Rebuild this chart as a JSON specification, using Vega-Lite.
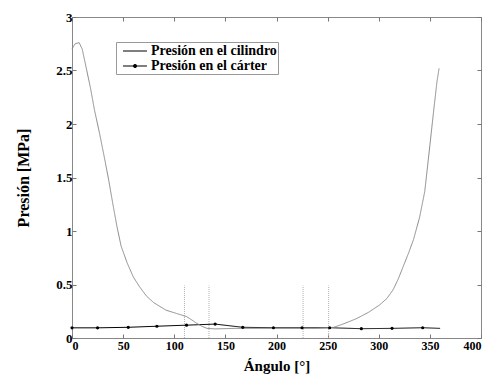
{
  "$schema": "https://vega.github.io/schema/vega-lite/v6.json",
  "width": 409,
  "height": 321,
  "autosize": {"type": "none"},
  "padding": {"left": 72, "top": 17, "right": 11, "bottom": 45},
  "background": "white",
  "config": {
    "view": {"stroke": "#888", "strokeWidth": 1},
    "font": "Liberation Serif"
  },
  "datasets": {
    "lines": [
      {"angle": 0, "p": 2.70, "serie": "Presión en el cilindro"},
      {"angle": 3, "p": 2.75, "serie": "Presión en el cilindro"},
      {"angle": 7, "p": 2.76, "serie": "Presión en el cilindro"},
      {"angle": 10, "p": 2.70, "serie": "Presión en el cilindro"},
      {"angle": 14, "p": 2.52, "serie": "Presión en el cilindro"},
      {"angle": 18, "p": 2.34, "serie": "Presión en el cilindro"},
      {"angle": 22, "p": 2.13, "serie": "Presión en el cilindro"},
      {"angle": 27, "p": 1.91, "serie": "Presión en el cilindro"},
      {"angle": 32, "p": 1.67, "serie": "Presión en el cilindro"},
      {"angle": 36, "p": 1.47, "serie": "Presión en el cilindro"},
      {"angle": 40, "p": 1.25, "serie": "Presión en el cilindro"},
      {"angle": 44, "p": 1.04, "serie": "Presión en el cilindro"},
      {"angle": 48, "p": 0.86, "serie": "Presión en el cilindro"},
      {"angle": 54, "p": 0.70, "serie": "Presión en el cilindro"},
      {"angle": 60, "p": 0.57, "serie": "Presión en el cilindro"},
      {"angle": 66, "p": 0.48, "serie": "Presión en el cilindro"},
      {"angle": 73, "p": 0.39, "serie": "Presión en el cilindro"},
      {"angle": 80, "p": 0.33, "serie": "Presión en el cilindro"},
      {"angle": 92, "p": 0.26, "serie": "Presión en el cilindro"},
      {"angle": 102, "p": 0.23, "serie": "Presión en el cilindro"},
      {"angle": 112, "p": 0.20, "serie": "Presión en el cilindro"},
      {"angle": 117, "p": 0.17, "serie": "Presión en el cilindro"},
      {"angle": 122, "p": 0.137, "serie": "Presión en el cilindro"},
      {"angle": 127, "p": 0.11, "serie": "Presión en el cilindro"},
      {"angle": 132, "p": 0.09, "serie": "Presión en el cilindro"},
      {"angle": 140, "p": 0.085, "serie": "Presión en el cilindro"},
      {"angle": 160, "p": 0.09, "serie": "Presión en el cilindro"},
      {"angle": 200, "p": 0.09, "serie": "Presión en el cilindro"},
      {"angle": 240, "p": 0.09, "serie": "Presión en el cilindro"},
      {"angle": 250, "p": 0.095, "serie": "Presión en el cilindro"},
      {"angle": 256, "p": 0.10, "serie": "Presión en el cilindro"},
      {"angle": 265, "p": 0.13, "serie": "Presión en el cilindro"},
      {"angle": 278, "p": 0.18, "serie": "Presión en el cilindro"},
      {"angle": 290, "p": 0.24, "serie": "Presión en el cilindro"},
      {"angle": 301, "p": 0.31, "serie": "Presión en el cilindro"},
      {"angle": 308, "p": 0.37, "serie": "Presión en el cilindro"},
      {"angle": 314, "p": 0.45, "serie": "Presión en el cilindro"},
      {"angle": 319, "p": 0.55, "serie": "Presión en el cilindro"},
      {"angle": 324, "p": 0.67, "serie": "Presión en el cilindro"},
      {"angle": 329, "p": 0.79, "serie": "Presión en el cilindro"},
      {"angle": 334, "p": 0.92, "serie": "Presión en el cilindro"},
      {"angle": 340, "p": 1.13, "serie": "Presión en el cilindro"},
      {"angle": 345, "p": 1.37, "serie": "Presión en el cilindro"},
      {"angle": 350, "p": 1.80, "serie": "Presión en el cilindro"},
      {"angle": 354, "p": 2.15, "serie": "Presión en el cilindro"},
      {"angle": 357, "p": 2.40, "serie": "Presión en el cilindro"},
      {"angle": 359, "p": 2.52, "serie": "Presión en el cilindro"},
      {"angle": 0, "p": 0.095, "serie": "Presión en el cárter"},
      {"angle": 25, "p": 0.095, "serie": "Presión en el cárter"},
      {"angle": 55, "p": 0.10, "serie": "Presión en el cárter"},
      {"angle": 83, "p": 0.11, "serie": "Presión en el cárter"},
      {"angle": 112, "p": 0.12, "serie": "Presión en el cárter"},
      {"angle": 140, "p": 0.13, "serie": "Presión en el cárter"},
      {"angle": 167, "p": 0.10, "serie": "Presión en el cárter"},
      {"angle": 197, "p": 0.096, "serie": "Presión en el cárter"},
      {"angle": 225, "p": 0.096, "serie": "Presión en el cárter"},
      {"angle": 252, "p": 0.096, "serie": "Presión en el cárter"},
      {"angle": 283, "p": 0.087, "serie": "Presión en el cárter"},
      {"angle": 313, "p": 0.09, "serie": "Presión en el cárter"},
      {"angle": 343, "p": 0.096, "serie": "Presión en el cárter"},
      {"angle": 360, "p": 0.09, "serie": "Presión en el cárter"}
    ],
    "ports": [
      {"angle": 110, "p0": 0, "p1": 0.49},
      {"angle": 134, "p0": 0, "p1": 0.49},
      {"angle": 226, "p0": 0, "p1": 0.49},
      {"angle": 251, "p0": 0, "p1": 0.49}
    ]
  },
  "resolve": {"axis": {"x": "independent", "y": "independent"}},
  "layer": [
    {
      "data": {"name": "ports"},
      "mark": {"type": "rule", "color": "#b0b0b0", "strokeDash": [1, 1], "strokeWidth": 1},
      "encoding": {
        "x": {"field": "angle", "type": "quantitative", "scale": {"domain": [0, 400], "nice": false},
              "axis": {"orient": "top", "labels": false, "title": null, "domain": false, "grid": false, "values": [0,50,100,150,200,250,300,350,400], "tickSize": -4, "tickColor": "#777"}},
        "y": {"field": "p0", "type": "quantitative", "scale": {"domain": [0, 3], "nice": false},
              "axis": {"orient": "right", "labels": false, "title": null, "domain": false, "grid": false, "values": [0,0.5,1,1.5,2,2.5,3], "tickSize": -4, "tickColor": "#777"}},
        "y2": {"field": "p1"}
      }
    },
    {
      "data": {"name": "lines"},
      "transform": [{"filter": "datum.serie === 'Presión en el cárter'"}],
      "mark": {"type": "line", "strokeWidth": 1, "color": "black"},
      "encoding": {
        "x": {"field": "angle", "type": "quantitative",
              "axis": {"orient": "bottom", "title": "Ángulo [°]", "domain": false, "grid": false,
                       "values": [0,50,100,150,200,250,300,350,400], "tickSize": -4, "tickColor": "#777",
                       "labelFont": "Liberation Serif", "labelFontWeight": "bold", "labelFontSize": 12, "labelColor": "black", "labelPadding": 6,
                       "titleFont": "Liberation Serif", "titleFontWeight": "bold", "titleFontSize": 15, "titleColor": "black", "titlePadding": 7}},
        "y": {"field": "p", "type": "quantitative",
              "axis": {"orient": "left", "title": "Presión [MPa]", "domain": false, "grid": false, "format": "~g",
                       "values": [0,0.5,1,1.5,2,2.5,3], "tickSize": -4, "tickColor": "#777",
                       "labelFont": "Liberation Serif", "labelFontWeight": "bold", "labelFontSize": 13, "labelColor": "black", "labelPadding": 4,
                       "titleFont": "Liberation Serif", "titleFontWeight": "bold", "titleFontSize": 16, "titleColor": "black", "titlePadding": 24}},
        "strokeDash": {"field": "serie", "type": "nominal",
                  "scale": {"domain": ["Presión en el cilindro", "Presión en el cárter"], "range": [[1, 0], [1, 0]]},
                  "legend": {"orient": "none", "legendX": 44, "legendY": 25, "title": null,
                             "strokeColor": "#999", "padding": 1, "fillColor": "white",
                             "symbolSize": 196, "labelOffset": 18, "rowPadding": 0,
                             "symbolStrokeColor": "black", "symbolFillColor": "black",
                             "labelFont": "Liberation Serif", "labelFontWeight": "bold", "labelFontSize": 14, "labelColor": "black",
                             "symbolStrokeWidth": 1.2,
                             "encode": {"symbols": {"update": {
                               "stroke": {"value": "black"},
                               "fill": {"value": "black"},
                               "opacity": {"value": 1},
                               "shape": {"signal": "datum.value === 'Presión en el cárter' ? 'M-0.29,0H3.14M1.43,-0.2A0.2,0.2,0,1,1,1.43,0.2A0.2,0.2,0,1,1,1.43,-0.2Z' : 'M-0.29,0H3.14'"}
                             }}}}},
        "order": {"field": "angle", "type": "quantitative"}
      }
    },
    {
      "data": {"name": "lines"},
      "transform": [{"filter": "datum.serie === 'Presión en el cilindro'"}],
      "mark": {"type": "line", "strokeWidth": 1, "color": "#8c8c8c"},
      "encoding": {
        "x": {"field": "angle", "type": "quantitative", "axis": null},
        "y": {"field": "p", "type": "quantitative", "axis": null},
        "strokeDash": {"field": "serie", "type": "nominal"},
        "order": {"field": "angle", "type": "quantitative"}
      }
    },
    {
      "data": {"name": "lines"},
      "transform": [{"filter": "datum.serie === 'Presión en el cárter' && datum.angle < 360"}],
      "mark": {"type": "point", "filled": true, "size": 10, "color": "black", "opacity": 1},
      "encoding": {
        "x": {"field": "angle", "type": "quantitative", "axis": null},
        "y": {"field": "p", "type": "quantitative", "axis": null}
      }
    }
  ]
}
